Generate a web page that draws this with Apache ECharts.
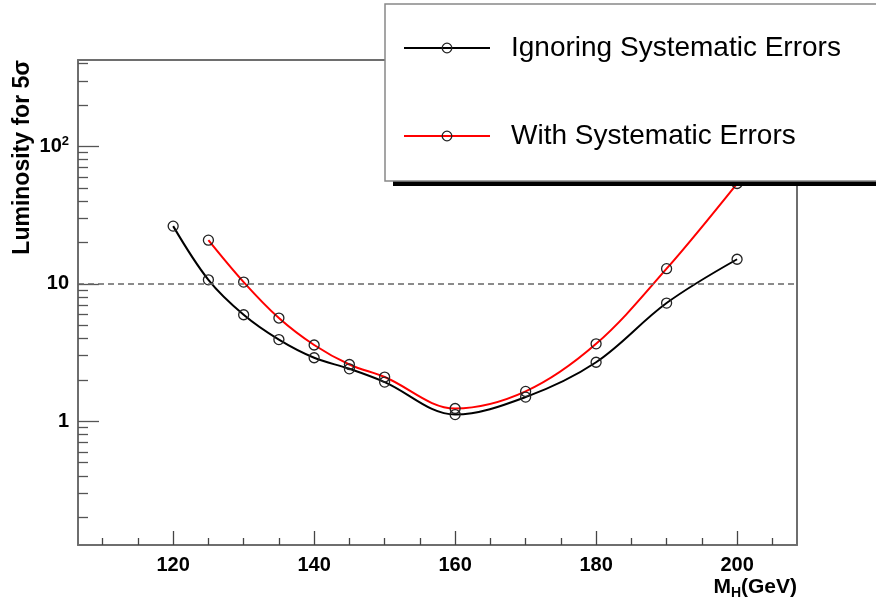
<!DOCTYPE html>
<html>
<head>
<meta charset="utf-8">
<script src="https://cdn.jsdelivr.net/npm/echarts@6/dist/echarts.min.js"></script>
<style>
  html, body { margin: 0; padding: 0; background: #fff; }
  #chart { width: 876px; height: 600px; }
</style>
</head>
<body>
<div id="chart"></div>
<script>
// Higgs mass points (GeV) and luminosity needed for 5 sigma
const massBlack = [120, 125, 130, 135, 140, 145, 150, 160, 170, 180, 190, 200];
const lumiBlack = [26.3, 10.7, 5.96, 3.93, 2.90, 2.41, 1.93, 1.12, 1.50, 2.69, 7.25, 15.1];
const massRed = [125, 130, 135, 140, 145, 150, 160, 170, 180, 190, 200];
const lumiRed = [20.8, 10.3, 5.64, 3.59, 2.59, 2.10, 1.24, 1.65, 3.66, 12.9, 53.7];

// tick positions
const xMajorTicks = [120, 140, 160, 180, 200];
const xMinorTicks = [110, 115, 125, 130, 135, 145, 150, 155, 165, 170, 175, 185, 190, 195, 205];
const yMajorTicks = [1, 10, 100];
const yMinorTicks = [0.2, 0.3, 0.4, 0.5, 0.6, 0.7, 0.8, 0.9,
  2, 3, 4, 5, 6, 7, 8, 9, 20, 30, 40, 50, 60, 70, 80, 90, 200, 300, 400];
const refLine = 10;

const seriesNames = ["Ignoring Systematic Errors", "With Systematic Errors"];

const font = "'Liberation Sans', Arial, Helvetica, sans-serif";
const frameColor = "#6e6e6e";
const clear = "rgba(0,0,0,0)";

const toPairs = (xs, ys) => xs.map((x, i) => [x, ys[i]]);

const chart = echarts.init(document.getElementById("chart"));

const xBase = { type: "value", min: 106.5, max: 208.5, gridIndex: 0, splitLine: { show: false } };
const yBase = { type: "log", min: 0.126, max: 425, logBase: 10, gridIndex: 0, splitLine: { show: false } };

// same box layout for both legends
const legendBox = {
  orient: "vertical",
  left: 385,
  top: 4,
  padding: [30, 120, 31, 18],
  itemGap: 60,
  itemWidth: 86,
  itemHeight: 12,
  selectedMode: false,
  data: seriesNames,
};

const option = {
  backgroundColor: "#fff",
  animation: false,
  textStyle: { fontFamily: font },
  grid: { left: 78, right: 79, top: 60, bottom: 53 },
  legend: [
    // white box with hard black shadow (no border, so the shadow only shows outside)
    Object.assign({}, legendBox, {
      z: 10,
      backgroundColor: "#fff",
      borderWidth: 0,
      shadowColor: "#000",
      shadowBlur: 0,
      shadowOffsetX: 8,
      shadowOffsetY: 5,
      itemStyle: { color: clear, borderColor: clear },
      lineStyle: { color: clear },
      textStyle: { fontSize: 28, color: clear, fontFamily: font, padding: [0, 0, 0, 16] },
    }),
    // border and entries
    Object.assign({}, legendBox, {
      z: 11,
      backgroundColor: clear,
      borderColor: "#888",
      borderWidth: 1.5,
      itemStyle: { color: clear, borderColor: "#222", borderWidth: 1.3 },
      textStyle: { fontSize: 28, color: "#000", fontFamily: font, padding: [0, 0, 0, 16] },
    }),
  ],
  xAxis: [
    // main bottom axis
    Object.assign({}, xBase, {
      position: "bottom",
      axisLine: { onZero: false, lineStyle: { color: frameColor, width: 2 } },
      axisTick: { inside: true, length: 14, customValues: xMajorTicks, lineStyle: { color: "#444", width: 1.3 } },
      axisLabel: {
        customValues: xMajorTicks, margin: 10, color: "#000",
        fontSize: 20, fontWeight: "bold", fontFamily: font,
      },
      name: "{m|M}{s|H}{m|(GeV)}",
      nameLocation: "end",
      nameGap: 0,
      nameMoveOverlap: false,
      nameTextStyle: {
        align: "right", verticalAlign: "top", padding: [29, 0, 0, 0],
        rich: {
          m: { fontSize: 21, fontWeight: "bold", color: "#000", fontFamily: font },
          s: { fontSize: 14, fontWeight: "bold", color: "#000", fontFamily: font, padding: [12, 0, 0, 0] },
        },
      },
    }),
    // minor ticks
    Object.assign({}, xBase, {
      position: "bottom",
      axisLine: { show: false, onZero: false },
      axisTick: { inside: true, length: 7, customValues: xMinorTicks, lineStyle: { color: "#444", width: 1.3 } },
      axisLabel: { show: false },
    }),
    // top frame
    Object.assign({}, xBase, {
      position: "top",
      axisLine: { onZero: false, lineStyle: { color: frameColor, width: 2 } },
      axisTick: { show: false },
      axisLabel: { show: false },
    }),
  ],
  yAxis: [
    Object.assign({}, yBase, {
      position: "left",
      axisLine: { onZero: false, lineStyle: { color: frameColor, width: 2 } },
      axisTick: { inside: true, length: 21, customValues: yMajorTicks, lineStyle: { color: "#555", width: 1.3 } },
      axisLabel: {
        customValues: yMajorTicks, margin: 9, color: "#000",
        fontSize: 20, fontWeight: "bold", fontFamily: font,
        formatter: (v) => (Math.round(v) === 100 ? "10{sup|2}" : String(Math.round(v))),
        rich: {
          sup: { fontSize: 13, fontWeight: "bold", color: "#000", fontFamily: font, padding: [0, 0, 10, 0] },
        },
      },
      name: "Luminosity for 5σ",
      nameLocation: "end",
      nameRotate: 90,
      nameGap: 0,
      nameMoveOverlap: false,
      nameTextStyle: {
        align: "right", verticalAlign: "bottom", padding: [0, 0, 44, 0],
        fontSize: 23, fontWeight: "bold", color: "#000", fontFamily: font,
      },
    }),
    Object.assign({}, yBase, {
      position: "left",
      axisLine: { show: false, onZero: false },
      axisTick: { inside: true, length: 10, customValues: yMinorTicks, lineStyle: { color: "#555", width: 1.3 } },
      axisLabel: { show: false },
    }),
    Object.assign({}, yBase, {
      position: "right",
      axisLine: { onZero: false, lineStyle: { color: frameColor, width: 2 } },
      axisTick: { show: false },
      axisLabel: { show: false },
    }),
  ],
  series: [
    {
      name: seriesNames[0],
      type: "line",
      xAxisIndex: 0,
      yAxisIndex: 0,
      smooth: 0.35,
      symbol: "circle",
      symbolSize: 10,
      color: "#000",
      lineStyle: { color: "#000", width: 2 },
      itemStyle: { color: clear, borderColor: "#222", borderWidth: 1.3 },
      data: toPairs(massBlack, lumiBlack),
      markLine: {
        silent: true,
        symbol: "none",
        label: { show: false },
        lineStyle: { color: "#666", type: [6, 4], width: 1.5 },
        data: [{ yAxis: refLine }],
      },
    },
    {
      name: seriesNames[1],
      type: "line",
      xAxisIndex: 0,
      yAxisIndex: 0,
      smooth: 0.35,
      symbol: "circle",
      symbolSize: 10,
      color: "#ff0000",
      lineStyle: { color: "#ff0000", width: 2 },
      itemStyle: { color: clear, borderColor: "#222", borderWidth: 1.3 },
      data: toPairs(massRed, lumiRed),
    },
  ],
};

chart.setOption(option);
</script>
</body>
</html>
